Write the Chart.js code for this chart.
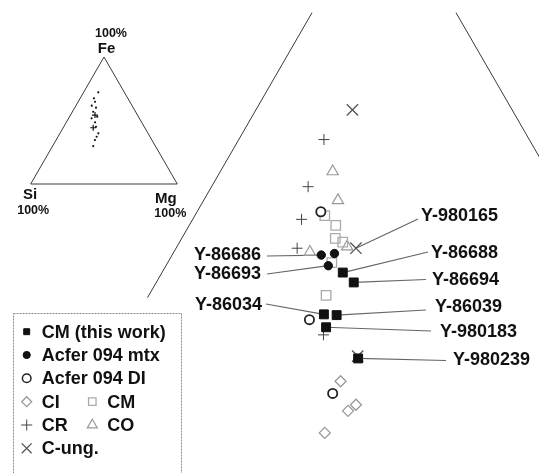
<!DOCTYPE html>
<html>
<head>
<meta charset="utf-8">
<script src="https://cdn.jsdelivr.net/npm/chart.js"></script>
<style>
  html, body { margin: 0; padding: 0; background: #fff; }
  canvas { display: block; }
</style>
</head>
<body>
<canvas id="chart" width="539" height="473"></canvas>
<script>
// Compositions as [Fe, Mg] atom %, Si is the remainder
const cmThisWork = [[49.4, 20.6], [48.1, 22.5], [43.9, 21.2], [43.8, 22.7], [42.2, 22.3], [38.1, 28.0]];
const acferMtx = [[51.7, 17.0], [51.9, 18.4], [50.3, 18.5]];
const acferDI = [[57.4, 14.1], [43.2, 19.9], [33.5, 27.4]];
const ciLit = [[35.1, 27.5], [32.0, 30.8], [31.2, 30.3], [28.3, 29.1]];
const cmLit = [[56.9, 14.8], [55.6, 16.7], [53.9, 17.5], [53.4, 18.6], [50.7, 18.7], [46.4, 20.2]];
const crLit = [[66.9, 9.7], [60.7, 11.0], [56.4, 12.4], [52.6, 13.8], [41.2, 22.5]];
const coLit = [[62.7, 12.8], [58.9, 15.3], [52.1, 15.5], [52.8, 19.4]];
const cUng = [[70.8, 11.0], [52.6, 20.5], [38.4, 27.8]];

// overview triangle (small inset)
const insetDots = [[72.2, 10.0], [67.5, 9.4], [64.8, 11.5], [61.7, 10.8], [60.1, 14.5], [56.9, 14.2],
  [53.0, 18.9], [51.7, 15.7], [48.6, 19.6], [45.1, 22.0], [39.9, 26.2], [37.2, 26.4], [34.6, 26.5], [29.9, 27.7]];
const insetCrosses = [[54.3, 16.7], [44.3, 20.5]];
const insetFrame = [[0, 0], [100, 0], [0, 100], [0, 0]];

// visible pieces of the big triangle's Si-Fe and Fe-Mg edges
const edgeSiFe = [[83.6, 0], [46.1, 0]];
const edgeFeMg = [[83.6, 16.4], [50, 50]];

// sample names and the point each one points at [dataset, index]
const calloutNames = ['Y-980165', 'Y-86686', 'Y-86693', 'Y-86688', 'Y-86694', 'Y-86034', 'Y-86039', 'Y-980183', 'Y-980239'];
const calloutTargets = [[7, 1], [1, 0], [1, 2], [0, 0], [0, 1], [0, 2], [0, 3], [0, 4], [0, 5]];

// where the names sit on the page
const calloutLayout = [
  { tx: 421, ty: 216, align: 'left', lx: 418, ly: 219 },
  { tx: 261, ty: 255, align: 'right', lx: 267, ly: 256 },
  { tx: 261, ty: 274, align: 'right', lx: 267, ly: 274 },
  { tx: 431, ty: 253, align: 'left', lx: 428, ly: 252 },
  { tx: 432, ty: 280, align: 'left', lx: 426, ly: 279.5 },
  { tx: 262, ty: 305, align: 'right', lx: 266, ly: 304 },
  { tx: 435, ty: 307.5, align: 'left', lx: 426, ly: 310 },
  { tx: 440, ty: 332.5, align: 'left', lx: 431, ly: 331 },
  { tx: 453, ty: 360.5, align: 'left', lx: 446, ly: 360.5 }
];

const SQ3 = Math.sqrt(3) / 2;
const toXY = ([fe, mg]) => ({ x: mg / 100 + fe / 200, y: fe / 100 * SQ3 });

const FONT = '"Liberation Sans", Arial, sans-serif';

function pointSet(label, data, style) {
  return Object.assign({ label: label, data: data.map(toXY), showLine: false }, style);
}

function lineSet(data, inset) {
  return {
    data: data.map(toXY),
    showLine: true,
    borderColor: '#3a3a3a',
    borderWidth: 1,
    pointRadius: 0,
    fill: false,
    xAxisID: inset ? 'ix' : 'x',
    yAxisID: inset ? 'iy' : 'y'
  };
}

const datasets = [
  pointSet('CM (this work)', cmThisWork, { pointStyle: 'rect', pointRadius: 6.3, backgroundColor: '#111', borderColor: '#111', borderWidth: 1 }),
  pointSet('Acfer 094 mtx', acferMtx, { pointStyle: 'circle', pointRadius: 4.2, backgroundColor: '#111', borderColor: '#111', borderWidth: 1 }),
  pointSet('Acfer 094 DI', acferDI, { pointStyle: 'circle', pointRadius: 4.6, backgroundColor: '#fff', borderColor: '#222', borderWidth: 1.8 }),
  pointSet('CI', ciLit, { pointStyle: 'rectRot', pointRadius: 5.5, backgroundColor: 'rgba(0,0,0,0)', borderColor: '#999', borderWidth: 1.3 }),
  pointSet('CM', cmLit, { pointStyle: 'rect', pointRadius: 6.7, backgroundColor: 'rgba(0,0,0,0)', borderColor: '#aaa', borderWidth: 1.3 }),
  pointSet('CR', crLit, { pointStyle: 'cross', pointRadius: 5.5, borderColor: '#444', borderWidth: 1 }),
  pointSet('CO', coLit, { pointStyle: 'triangle', pointRadius: 6.5, backgroundColor: 'rgba(0,0,0,0)', borderColor: '#999', borderWidth: 1.2 }),
  pointSet('C-ung.', cUng, { pointStyle: 'crossRot', pointRadius: 8, borderColor: '#555', borderWidth: 1.3 }),
  Object.assign(pointSet('', insetDots, { pointStyle: 'circle', pointRadius: 1.1, backgroundColor: '#111', borderWidth: 0 }), { xAxisID: 'ix', yAxisID: 'iy' }),
  Object.assign(pointSet('', insetCrosses, { pointStyle: 'cross', pointRadius: 3, borderColor: '#111', borderWidth: 1.2 }), { xAxisID: 'ix', yAxisID: 'iy' }),
  lineSet(insetFrame, true),
  lineSet(edgeSiFe, false),
  lineSet(edgeFeMg, false)
];

// legend rows: dataset index, marker x, row y, marker size
const legendItems = [
  { ds: 0, x: 26.7, y: 331.7, r: 4.2 },
  { ds: 1, x: 26.7, y: 355, r: 3.6 },
  { ds: 2, x: 26.7, y: 378.3, r: 4.3, bw: 1.5 },
  { ds: 3, x: 26.7, y: 401.7, r: 5 },
  { ds: 4, x: 92.3, y: 401.7, r: 5.3 },
  { ds: 5, x: 26.7, y: 425, r: 5.5 },
  { ds: 6, x: 92.3, y: 425, r: 5.8 },
  { ds: 7, x: 26.7, y: 448.3, r: 7 }
];

const annotations = {
  id: 'annotations',
  beforeDatasetsDraw(chart) {
    const ctx = chart.ctx;
    ctx.save();
    ctx.strokeStyle = '#666';
    ctx.lineWidth = 1.2;
    calloutTargets.forEach(([ds, i], k) => {
      const pt = chart.getDatasetMeta(ds).data[i];
      const l = calloutLayout[k];
      ctx.beginPath();
      ctx.moveTo(l.lx, l.ly);
      ctx.lineTo(pt.x, pt.y);
      ctx.stroke();
    });
    ctx.restore();
  },
  afterDatasetsDraw(chart) {
    const ctx = chart.ctx;
    ctx.save();
    ctx.fillStyle = '#111';
    ctx.textBaseline = 'middle';

    // sample names
    ctx.font = 'bold 18px ' + FONT;
    calloutNames.forEach((name, k) => {
      const l = calloutLayout[k];
      ctx.textAlign = l.align;
      ctx.fillText(name, l.tx, l.ty);
    });

    // inset vertex labels
    const ix = chart.scales.ix, iy = chart.scales.iy;
    const vtx = (c) => { const p = toXY(c); return { x: ix.getPixelForValue(p.x), y: iy.getPixelForValue(p.y) }; };
    const fe = vtx([100, 0]), si = vtx([0, 0]), mg = vtx([0, 100]);
    ctx.textAlign = 'center';
    ctx.font = 'bold 15px ' + FONT;
    ctx.fillText('Fe', fe.x + 2.5, fe.y - 8.5);
    ctx.fillText('Si', si.x - 0.5, si.y + 11);
    ctx.fillText('Mg', mg.x - 11.5, mg.y + 14.5);
    ctx.font = 'bold 12.5px ' + FONT;
    ctx.fillText('100%', fe.x + 7, fe.y - 23.5);
    ctx.fillText('100%', si.x + 2.5, si.y + 26.5);
    ctx.fillText('100%', mg.x - 7, mg.y + 30);

    // legend box
    ctx.strokeStyle = '#888';
    ctx.lineWidth = 1;
    ctx.setLineDash([2, 1]);
    ctx.strokeRect(13.5, 313.5, 168, 170);
    ctx.setLineDash([]);
    ctx.font = 'bold 18px ' + FONT;
    ctx.textAlign = 'left';
    legendItems.forEach(it => {
      const d = chart.data.datasets[it.ds];
      ctx.fillStyle = d.backgroundColor || 'rgba(0,0,0,0)';
      ctx.strokeStyle = d.borderColor;
      ctx.lineWidth = it.bw || d.borderWidth || 1;
      Chart.helpers.drawPoint(ctx, { pointStyle: d.pointStyle, radius: it.r, rotation: 0, borderWidth: ctx.lineWidth }, it.x, it.y);
      ctx.fillStyle = '#111';
      ctx.fillText(d.label, it.x + 15, it.y + 1);
    });
    ctx.restore();
  }
};

new Chart(document.getElementById('chart'), {
  type: 'scatter',
  data: { datasets: datasets },
  options: {
    responsive: false,
    animation: false,
    events: [],
    layout: { padding: 0, autoPadding: false },
    plugins: { legend: { display: false }, tooltip: { enabled: false } },
    scales: {
      x: { type: 'linear', min: 0.0624, max: 0.6766, display: false },
      y: { type: 'linear', min: 0.1994, max: 0.7384, display: false },
      ix: { type: 'linear', axis: 'x', position: 'bottom', min: -0.2094, max: 3.4673, display: false },
      iy: { type: 'linear', axis: 'y', position: 'left', min: -1.9713, max: 1.2551, display: false }
    }
  },
  plugins: [annotations]
});
</script>
</body>
</html>
